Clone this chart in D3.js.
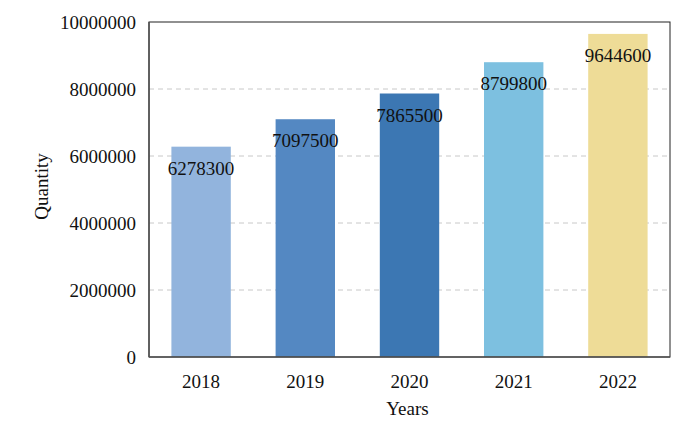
<!DOCTYPE html>
<html>
<head>
<meta charset="utf-8">
<script src="https://cdn.jsdelivr.net/npm/d3@7/dist/d3.min.js"></script>
<style>
  html, body { margin: 0; padding: 0; background: #fff; }
  svg { display: block; font-family: "Liberation Serif", "Times New Roman", serif; }
</style>
</head>
<body>
<svg id="chart" width="694" height="438"></svg>
<script>
const categories = ["2018", "2019", "2020", "2021", "2022"];
const values = [6278300, 7097500, 7865500, 8799800, 9644600];
const barColors = ["#92B4DD", "#5488C2", "#3C77B3", "#7DC0E0", "#EEDC97"];
const yTicks = [0, 2000000, 4000000, 6000000, 8000000, 10000000];

const W = 694, H = 438;
const margin = { left: 149, right: 24, top: 22, bottom: 81 };
const svg = d3.select("#chart");
const innerW = W - margin.left - margin.right;
const innerH = H - margin.top - margin.bottom;
const g = svg.append("g").attr("transform", `translate(${margin.left},${margin.top})`);

const x = d3.scaleBand().domain(categories).range([0, innerW]).paddingInner(0.43).paddingOuter(0.215);
const y = d3.scaleLinear().domain([0, 10000000]).range([innerH, 0]);

// grid
g.append("g").selectAll("line").data(yTicks.filter(t => t > 0 && t < 10000000)).join("line")
  .attr("x1", 0).attr("x2", innerW)
  .attr("y1", d => y(d)).attr("y2", d => y(d))
  .attr("stroke", "#c8c8c8").attr("stroke-width", 1).attr("stroke-dasharray", "5,4");

// bars
g.append("g").selectAll("rect").data(values).join("rect")
  .attr("x", (d, i) => x(categories[i]))
  .attr("y", d => y(d))
  .attr("width", x.bandwidth())
  .attr("height", d => innerH - y(d))
  .attr("fill", (d, i) => barColors[i]);

// value labels
g.append("g").selectAll("text").data(values).join("text")
  .attr("x", (d, i) => x(categories[i]) + x.bandwidth() / 2)
  .attr("y", d => y(d) + 28)
  .attr("text-anchor", "middle")
  .attr("font-size", 19)
  .attr("fill", "#111")
  .text(d => d);

// frame
g.append("rect").attr("x", 0).attr("y", 0).attr("width", innerW).attr("height", innerH)
  .attr("fill", "none").attr("stroke", "#222").attr("stroke-width", 1);
g.append("line").attr("x1", 0).attr("x2", 0).attr("y1", 0).attr("y2", innerH)
  .attr("stroke", "#555").attr("stroke-width", 1.6);
g.append("line").attr("x1", 0).attr("x2", innerW).attr("y1", innerH).attr("y2", innerH)
  .attr("stroke", "#555").attr("stroke-width", 1.6);

// y axis
const yAxis = d3.axisLeft(y).tickValues(yTicks).tickSize(0).tickPadding(13).tickFormat(d3.format("d"));
const ya = g.append("g").call(yAxis);
ya.select(".domain").remove();
ya.selectAll("text").attr("font-size", 19).attr("fill", "#111")
  .attr("font-family", "Liberation Serif, Times New Roman, serif");

// x axis
const xAxis = d3.axisBottom(x).tickSize(0).tickPadding(18);
const xa = g.append("g").attr("transform", `translate(0,${innerH})`).call(xAxis);
xa.select(".domain").remove();
xa.selectAll("text").attr("font-size", 19).attr("fill", "#111")
  .attr("font-family", "Liberation Serif, Times New Roman, serif");

// axis titles
svg.append("text").attr("x", margin.left + innerW / 2 - 2).attr("y", 415)
  .attr("text-anchor", "middle").attr("font-size", 19).attr("fill", "#111").text("Years");
svg.append("text").attr("transform", `translate(48,${margin.top + innerH / 2 - 3}) rotate(-90)`)
  .attr("text-anchor", "middle").attr("font-size", 19).attr("fill", "#111").text("Quantity");
</script>
</body>
</html>
